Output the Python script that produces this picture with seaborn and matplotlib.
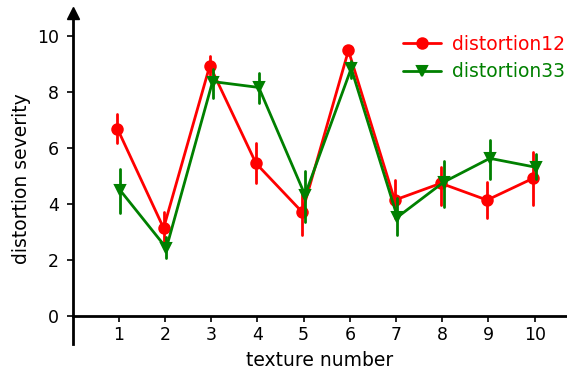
import numpy as np
import pandas as pd
import matplotlib
matplotlib.use("Agg")
import matplotlib.pyplot as plt
import seaborn as sns

# =========================================
# DATA
# =========================================

textures = [1, 2, 3, 4, 5, 6, 7, 8, 9, 10]

d12_mean = [6.68, 3.13, 8.93, 5.44, 3.70, 9.47, 4.13, 4.73, 4.13, 4.91]
d12_low = [6.17, 2.60, 8.60, 4.73, 2.88, 9.35, 3.50, 3.95, 3.49, 3.95]
d12_high = [7.19, 3.70, 9.29, 6.16, 4.45, 9.60, 4.84, 5.30, 4.77, 5.84]

d33_mean = [4.48, 2.42, 8.36, 8.15, 4.31, 8.83, 3.52, 4.77, 5.62, 5.30]
d33_low = [3.66, 2.06, 7.79, 7.58, 3.35, 8.50, 2.88, 3.88, 4.87, 4.90]
d33_high = [5.23, 2.80, 8.80, 8.68, 5.16, 9.10, 4.20, 5.52, 6.26, 5.77]

series_names = ["distortion12", "distortion33"]

# long table: low / mean / high per point -> median = mean, full range = error bar
rows = []
for name, lo, mid, hi in [
    (series_names[0], d12_low, d12_mean, d12_high),
    (series_names[1], d33_low, d33_mean, d33_high),
]:
    for t, a, b, c in zip(textures, lo, mid, hi):
        for v in (a, b, c):
            rows.append({"texture": t, "series": name, "severity": v})
df = pd.DataFrame(rows)

# =========================================
# PLOT
# =========================================

sns.set_style("white", {
    "axes.edgecolor": "black",
    "xtick.color": "black",
    "ytick.color": "black",
    "text.color": "black",
    "axes.labelcolor": "black",
})
plt.rcParams["font.family"] = ["DejaVu Sans"]

fig = plt.figure(figsize=(5.67, 3.77), dpi=100)
ax = fig.add_axes([0.128, 0.088, 0.872, 0.877])

sns.pointplot(
    data=df,
    x="texture",
    y="severity",
    hue="series",
    palette={"distortion12": "#ff0000", "distortion33": "#008000"},
    markers=["o", "v"],
    estimator="median",
    errorbar=("pi", 100),
    dodge=0.06,
    markersize=7.5,
    linewidth=2,
    err_kws={"linewidth": 2},
    ax=ax,
)

ax.set_xlim(-1, 9.7)
ax.set_ylim(-1, 10.8)
ax.set_yticks([0, 2, 4, 6, 8, 10])

ax.spines["right"].set_visible(False)
ax.spines["top"].set_visible(False)
ax.spines["bottom"].set_position(("data", 0))
ax.spines["left"].set_linewidth(2)
ax.spines["bottom"].set_linewidth(2)

# arrow head on the y axis
ax.plot(0, 1, "^k", markersize=8, transform=ax.transAxes, clip_on=False)

ax.tick_params(axis="both", direction="out", length=4, width=1.2,
               labelsize=12.5, bottom=True, left=True)
ax.tick_params(axis="y", pad=6)

ax.set_xlabel("texture number", fontsize=13.5, labelpad=5)
ax.set_ylabel("distortion severity", fontsize=13.5, labelpad=4)

ax.legend(
    loc="upper right",
    bbox_to_anchor=(1.03, 0.985),
    frameon=False,
    fontsize=13.5,
    labelcolor="linecolor",
    handlelength=2.0,
    handletextpad=0.6,
    labelspacing=0.45,
)

fig.savefig("out.png", dpi=100)
